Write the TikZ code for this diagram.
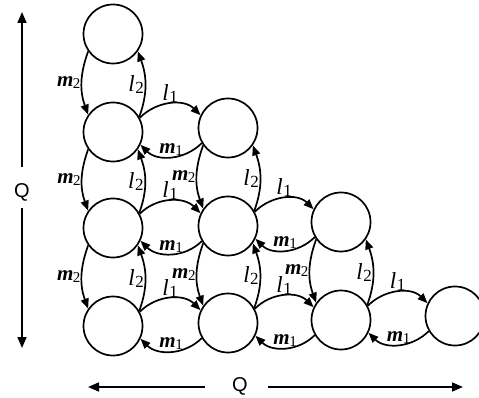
\documentclass[tikz,border=0pt]{standalone}
\usepackage{fontspec}
\setmainfont{Liberation Serif}
\newfontfamily\qfont{Liberation Sans}
\usetikzlibrary{arrows.meta}
\newcommand\lamlab[1]{{\fontsize{23}{23}\selectfont\itshape l}\kern0.5pt{\fontsize{17}{17}\selectfont\raisebox{-2pt}{#1}}}
\newcommand\mulab[1]{{\fontsize{21}{21}\selectfont\bfseries\itshape m}\kern-0.5pt{\fontsize{15}{15}\selectfont\raisebox{-2pt}{#1}}}
\tikzset{
  st/.style={circle,draw,line width=1.7pt,minimum size=59pt,inner sep=0pt},
  arr/.style={line width=1.7pt,-{Triangle[length=10pt,width=8pt]}},
  qarr/.style={line width=1.7pt,-{Triangle[length=11pt,width=9pt]}},
  lbl/.style={inner sep=0.5pt},
}
\newcommand\hpair[2]{%
  \draw[arr] (#1.28) to[out=45,in=135] node[above,lbl]{\lamlab1} (#2.155);
  \draw[arr] (#2.210) to[out=-135,in=-45] node[above,lbl]{\mulab1} (#1.-25);}
\newcommand\vpair[2]{%
  \draw[arr] (#1.215) to[out=-110,in=110] node[left,lbl]{\mulab2} (#2.145);
  \draw[arr] (#2.30) to[out=70,in=-70] node[left,lbl]{\lamlab2} (#1.-35);}
\begin{document}
\begin{tikzpicture}[x=1pt,y=1pt]
\useasboundingbox (0,0) rectangle (479,-398);
\node[st] (c11) at (113,-34) {};
\node[st] (c12) at (113,-132) {};
\node[st] (c13) at (113,-228) {};
\node[st] (c14) at (113,-326) {};
\node[st] (c22) at (228,-128) {};
\node[st] (c23) at (228,-226) {};
\node[st] (c24) at (228,-323) {};
\node[st] (c33) at (341,-222) {};
\node[st] (c34) at (341,-320) {};
\node[st] (c44) at (455,-316) {};
\vpair{c11}{c12}
\vpair{c12}{c13}
\vpair{c13}{c14}
\vpair{c22}{c23}
\vpair{c23}{c24}
\vpair{c33}{c34}
\hpair{c12}{c22}
\hpair{c13}{c23}
\hpair{c14}{c24}
\hpair{c23}{c33}
\hpair{c24}{c34}
\hpair{c34}{c44}
% Q axes
\node[font=\qfont\fontsize{20}{20}\selectfont,inner sep=0pt] (qv) at (22,-192) {Q};
\coordinate (v1) at (22,-167);
\coordinate (v2) at (22,-208);
\coordinate (vt) at (22,-12);
\coordinate (vb) at (22,-348);
\draw[qarr] (v1) -- (vt);
\draw[qarr] (v2) -- (vb);
\node[font=\qfont\fontsize{20}{20}\selectfont,inner sep=0pt] (qh) at (240,-386) {Q};
\coordinate (h1) at (205,-387);
\coordinate (h2) at (268,-387);
\coordinate (hl) at (88,-387);
\coordinate (hr) at (463,-387);
\draw[qarr] (h1) -- (hl);
\draw[qarr] (h2) -- (hr);
\end{tikzpicture}
\end{document}
